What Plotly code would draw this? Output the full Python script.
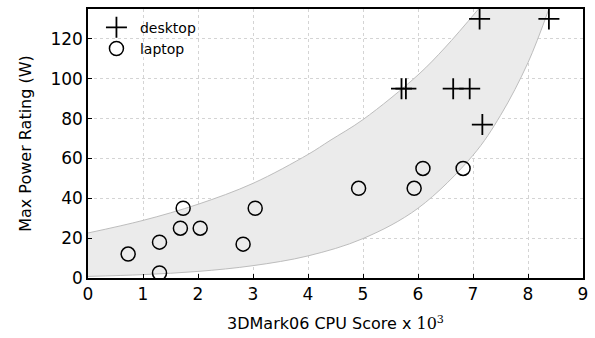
import plotly.graph_objects as go

# Data
desktop_x = [7.12, 8.38, 5.70, 5.78, 6.64, 6.94, 7.17]
desktop_y = [130, 130, 95, 95, 95, 95, 77]

laptop_x = [0.73, 1.30, 1.30, 1.68, 1.73, 2.04, 2.82, 3.04, 4.92, 5.93, 6.09, 6.82]
laptop_y = [12, 18, 2.5, 25, 35, 25, 17, 35, 45, 45, 55, 55]

# Band edges (values read along the shaded band's borders)
upper_x = [0.0, 1.0, 2.0, 3.0, 4.0, 4.4, 5.0, 6.0, 6.5, 7.1]
upper_y = [22.6, 28.9, 37.0, 47.5, 62.0, 69.0, 79.5, 101.9, 115.9, 135]
lower_x = [0.0, 1.0, 2.0, 3.0, 4.0, 5.0, 6.0, 7.0, 7.5, 8.0, 8.38]
lower_y = [0.8, 1.7, 3.3, 6.2, 11.1, 19.8, 35.0, 61.6, 81.6, 108.1, 135]

x_ticks = list(range(0, 10))
y_ticks = list(range(0, 140, 20))

FONT = "DejaVu Sans"

fig = go.Figure()
fig.add_trace(go.Scatter(x=lower_x, y=lower_y, mode="lines",
                         line=dict(color="#bdbdbd", width=1, shape="spline", smoothing=1.0),
                         showlegend=False, hoverinfo="skip"))
fig.add_trace(go.Scatter(x=upper_x, y=upper_y, mode="lines",
                         line=dict(color="#bdbdbd", width=1, shape="spline", smoothing=1.0),
                         fill="tonexty", fillcolor="#ebebeb", showlegend=False, hoverinfo="skip"))
fig.add_trace(go.Scatter(x=desktop_x, y=desktop_y, mode="markers", name="desktop",
                         marker=dict(symbol="cross-thin", size=15, color="black",
                                     line=dict(color="black", width=1.8))))
fig.add_trace(go.Scatter(x=laptop_x, y=laptop_y, mode="markers", name="laptop",
                         marker=dict(symbol="circle-open", size=14, color="black",
                                     line=dict(color="black", width=1.5))))

axis_common = dict(
    showline=True, linecolor="black", linewidth=1.5, mirror=True,
    ticks="inside", ticklen=4, tickcolor="black", tickwidth=1,
    showgrid=True, gridcolor="#d4d4d4", griddash="dot", gridwidth=1,
    zeroline=False, tickfont=dict(family=FONT, size=17, color="black"),
)

fig.update_layout(
    width=595, height=338,
    margin=dict(l=88, r=12, t=7, b=60),
    paper_bgcolor="white", plot_bgcolor="white",
    font=dict(family=FONT, color="black"),
    xaxis=dict(range=[0, 9], tickvals=x_ticks, **axis_common,
               title=dict(text="3DMark06 CPU Score x <span style='font-family:DejaVu Serif'>10<sup>3</sup></span>",
                          font=dict(family=FONT, size=16), standoff=15)),
    yaxis=dict(range=[0, 135], tickvals=y_ticks, **axis_common,
               title=dict(text="Max Power Rating (W)", font=dict(family=FONT, size=16), standoff=15)),
    legend=dict(x=0.01, y=0.99, xanchor="left", yanchor="top", bgcolor="rgba(0,0,0,0)",
                font=dict(family=FONT, size=14), traceorder="normal", itemwidth=37, tracegroupgap=0),
)

fig.write_html("out.html", config={"displayModeBar": False},
               post_script="document.body.style.margin='0';document.body.style.overflow='hidden';")
